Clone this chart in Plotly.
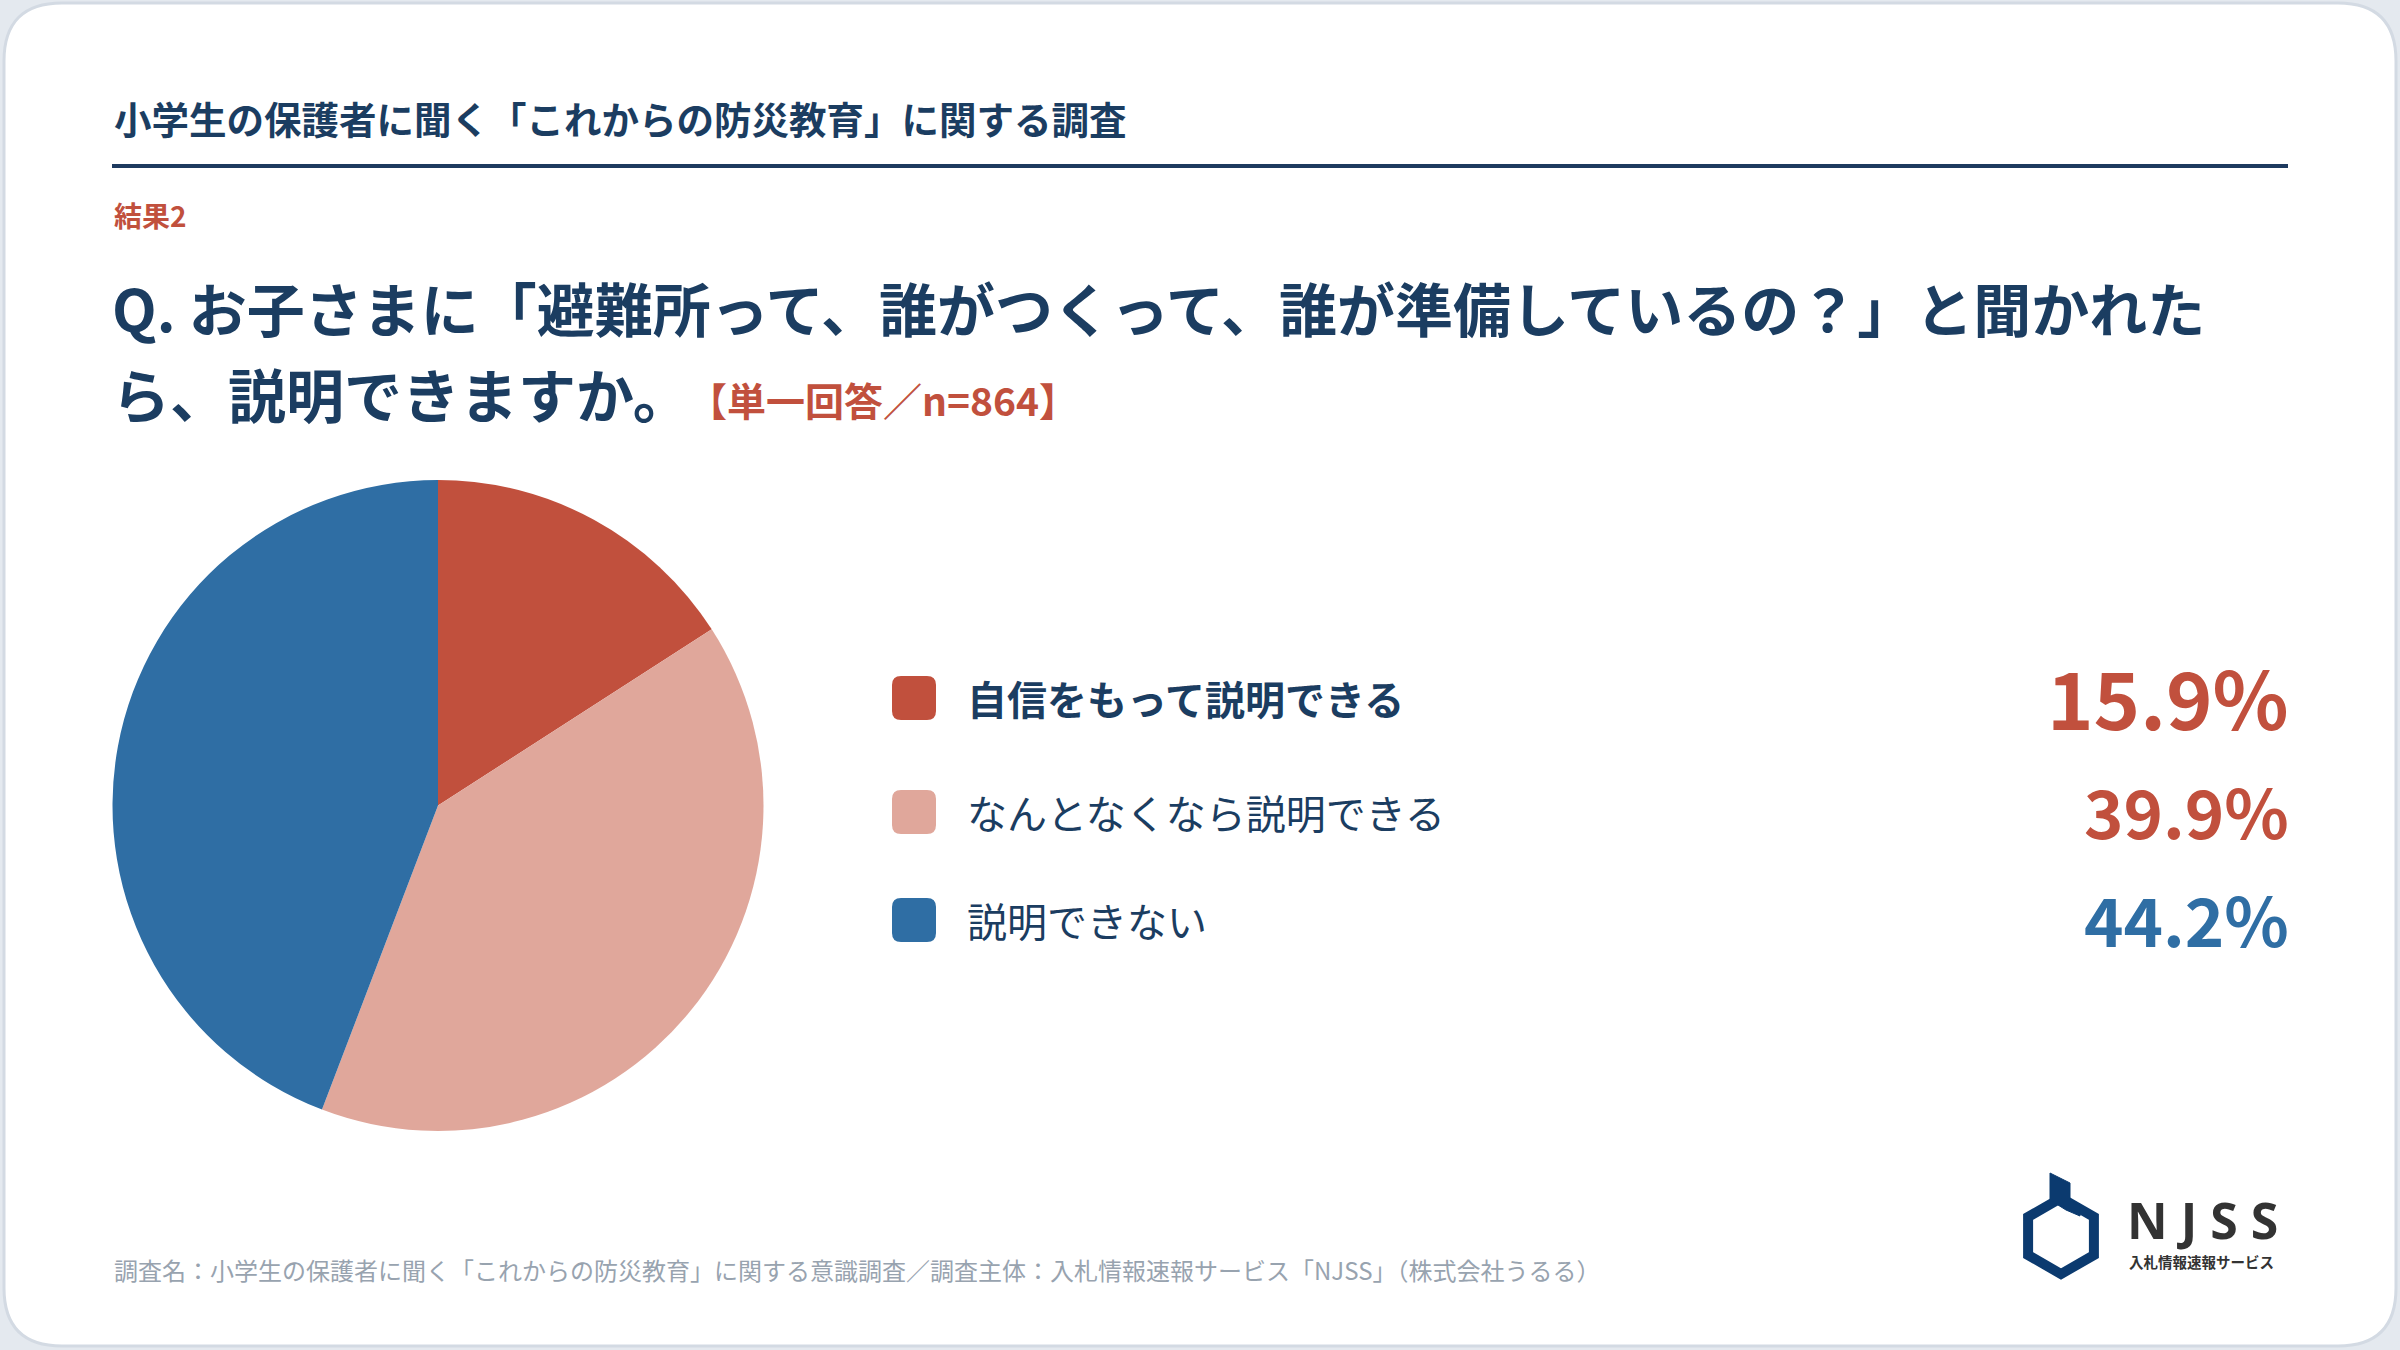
import plotly.graph_objects as go
import math

W, H = 2400, 1350

# ---- data ----
categories = ["自信をもって説明できる", "なんとなくなら説明できる", "説明できない"]
values = [15.9, 39.9, 44.2]
colors = ["#c1503d", "#e0a79b", "#2f6ea4"]
value_colors = ["#c1503d", "#c1503d", "#2f6ea4"]

header_title = "小学生の保護者に聞く「これからの防災教育」に関する調査"
result_label = "結果2"
question_line1 = "Q. お子さまに「避難所って、誰がつくって、誰が準備しているの？」と聞かれた"
question_line2 = "ら、説明できますか。"
answer_note = "【単一回答／n=864】"
footer_text = "調査名：小学生の保護者に聞く「これからの防災教育」に関する意識調査／調査主体：入札情報速報サービス「NJSS」（株式会社うるる）"

NAVY = "#1b3d61"
FONT = "Noto Sans CJK JP"


def px(x):
    return x / W


def py(y):
    return 1 - y / H


fig = go.Figure()

fig.add_trace(go.Pie(
    labels=categories,
    values=values,
    sort=False,
    direction="clockwise",
    rotation=0,
    marker=dict(colors=colors, line=dict(width=0)),
    textinfo="none",
    hoverinfo="label+percent",
    showlegend=False,
    domain=dict(x=[px(112), px(764)], y=[py(1131), py(480)]),
))

shapes = []
annotations = []


def rounded_rect(x0, y0, x1, y1, r):
    return (f"M {x0+r},{y0} L {x1-r},{y0} Q {x1},{y0} {x1},{y0+r} "
            f"L {x1},{y1-r} Q {x1},{y1} {x1-r},{y1} L {x0+r},{y1} "
            f"Q {x0},{y1} {x0},{y1-r} L {x0},{y0+r} Q {x0},{y0} {x0+r},{y0} Z")


def to_paper_path(path_px):
    out = []
    for tok in path_px.split(" "):
        if "," in tok:
            a, b = tok.split(",")
            out.append(f"{px(float(a)):.6f},{py(float(b)):.6f}")
        else:
            out.append(tok)
    return " ".join(out)


# card background
shapes.append(dict(type="path", xref="paper", yref="paper",
                   path=to_paper_path(rounded_rect(4, 3, 2396, 1346, 58)),
                   fillcolor="#ffffff", line=dict(color="#d3dae3", width=3), layer="below"))

# header rule
shapes.append(dict(type="line", xref="paper", yref="paper",
                   x0=px(112), x1=px(2288), y0=py(166), y1=py(166),
                   line=dict(color="#1d3a5f", width=4)))

annotations.append(dict(text=f"<b>{header_title}</b>", x=px(112), y=py(117), xref="paper", yref="paper",
                        xanchor="left", yanchor="middle", showarrow=False,
                        font=dict(family=FONT, size=37.5, color=NAVY)))
annotations.append(dict(text=f"<b>{result_label}</b>", x=px(112), y=py(215), xref="paper", yref="paper",
                        xanchor="left", yanchor="middle", showarrow=False,
                        font=dict(family=FONT, size=28, color="#c1503d")))
annotations.append(dict(text=f"<b>{question_line1}</b>", x=px(110), y=py(307), xref="paper", yref="paper",
                        xanchor="left", yanchor="middle", showarrow=False,
                        font=dict(family=FONT, size=58, color=NAVY)))
annotations.append(dict(text=f"<b>{question_line2}</b>", x=px(110), y=py(393), xref="paper", yref="paper",
                        xanchor="left", yanchor="middle", showarrow=False,
                        font=dict(family=FONT, size=58, color=NAVY)))
annotations.append(dict(text=f"<b>{answer_note}</b>", x=px(686), y=py(399), xref="paper", yref="paper",
                        xanchor="left", yanchor="middle", showarrow=False,
                        font=dict(family=FONT, size=39, color="#c1503d")))

# legend rows
row_y = [698, 812, 920]
pct_sizes = [79, 67, 67]
for i, (cat, val) in enumerate(zip(categories, values)):
    yc = row_y[i]
    shapes.append(dict(type="path", xref="paper", yref="paper",
                       path=to_paper_path(rounded_rect(892, yc - 22, 936, yc + 22, 9)),
                       fillcolor=colors[i], line=dict(width=0)))
    label = f"<b>{cat}</b>" if i == 0 else cat
    annotations.append(dict(text=label, x=px(965), y=py(yc), xref="paper", yref="paper",
                            xanchor="left", yanchor="middle", showarrow=False,
                            font=dict(family=FONT, size=40, color=NAVY)))
    annotations.append(dict(text=f"<b>{val:.1f}%</b>", x=px(2291), y=py(yc - 3), xref="paper", yref="paper",
                            xanchor="right", yanchor="middle", showarrow=False,
                            font=dict(family=FONT, size=pct_sizes[i], color=value_colors[i])))

# footer
annotations.append(dict(text=footer_text, x=px(112), y=py(1269), xref="paper", yref="paper",
                        xanchor="left", yanchor="middle", showarrow=False,
                        font=dict(family=FONT, size=24, color="#98a3af")))

# NJSS logo (decorative)
LOGO = "#0b3a6f"
cx, cy, r = 2061, 1236, 38
hex_pts = []
for k in range(6):
    ang = math.radians(90 + 60 * k)
    hex_pts.append((cx + r * math.cos(ang), cy - r * math.sin(ang)))
hex_path = "M " + " L ".join(f"{x:.1f},{y:.1f}" for x, y in hex_pts) + " Z"
shapes.append(dict(type="path", xref="paper", yref="paper", path=to_paper_path(hex_path),
                   fillcolor="rgba(0,0,0,0)", line=dict(color=LOGO, width=10)))
flag_path = "M 2050,1173 L 2070,1183 L 2070,1200 L 2080,1206 L 2080,1216 L 2066,1210 L 2050,1200 Z"
shapes.append(dict(type="path", xref="paper", yref="paper", path=to_paper_path(flag_path),
                   fillcolor=LOGO, line=dict(color=LOGO, width=1)))
annotations.append(dict(text="<b>N J S S</b>", x=px(2125), y=py(1220), xref="paper", yref="paper",
                        xanchor="left", yanchor="middle", showarrow=False,
                        font=dict(family="Noto Sans", size=50, color="#333333")))
annotations.append(dict(text="<b>入札情報速報サービス</b>", x=px(2127), y=py(1261), xref="paper", yref="paper",
                        xanchor="left", yanchor="middle", showarrow=False,
                        font=dict(family=FONT, size=14.5, color="#333333")))

fig.update_layout(
    width=W, height=H,
    margin=dict(l=0, r=0, t=0, b=0),
    paper_bgcolor="#e4e9ef",
    plot_bgcolor="#ffffff",
    shapes=shapes,
    annotations=annotations,
    font=dict(family=FONT),
)

fig.write_html("out.html", config={"displayModeBar": False},
               post_script="document.body.style.margin='0';")
